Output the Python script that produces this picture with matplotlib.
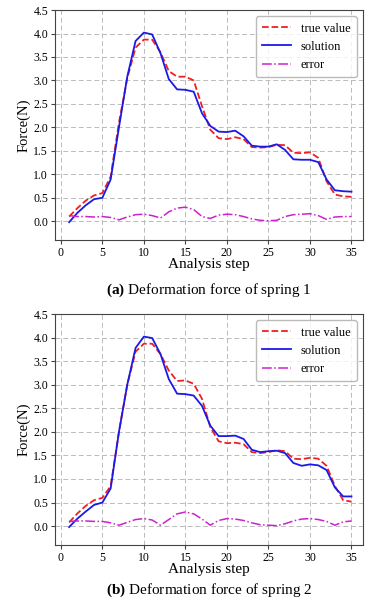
import numpy as np
import matplotlib.pyplot as plt

plt.rcParams['font.family'] = ['Liberation Serif', 'DejaVu Serif']
plt.rcParams['mathtext.fontset'] = 'custom'
plt.rcParams['mathtext.rm'] = 'Liberation Serif'
plt.rcParams['mathtext.bf'] = 'Liberation Serif:bold'

steps = np.arange(1, 36)

# spring 1
true1 = [0.10, 0.28, 0.44, 0.55, 0.60, 0.95, 2.10, 3.05, 3.70, 3.87,
         3.87, 3.60, 3.20, 3.08, 3.08, 3.00, 2.45, 1.95, 1.77, 1.75,
         1.79, 1.75, 1.58, 1.57, 1.58, 1.63, 1.62, 1.46, 1.45, 1.47,
         1.35, 0.85, 0.57, 0.53, 0.52]
sol1 = [-0.02, 0.18, 0.34, 0.47, 0.50, 0.89, 2.00, 3.08, 3.84, 4.02,
        3.98, 3.58, 3.03, 2.81, 2.80, 2.76, 2.30, 2.03, 1.91, 1.90,
        1.93, 1.81, 1.61, 1.59, 1.59, 1.64, 1.52, 1.32, 1.31, 1.31,
        1.26, 0.89, 0.66, 0.64, 0.63]
err1 = [0.12, 0.10, 0.10, 0.09, 0.10, 0.08, 0.03, 0.09, 0.14, 0.15,
        0.12, 0.07, 0.20, 0.28, 0.30, 0.25, 0.10, 0.06, 0.13, 0.15,
        0.14, 0.10, 0.05, 0.02, 0.01, 0.02, 0.10, 0.14, 0.15, 0.16,
        0.12, 0.04, 0.09, 0.10, 0.10]

# spring 2
true2 = [0.08, 0.27, 0.43, 0.55, 0.60, 0.85, 2.00, 3.00, 3.70, 3.87,
         3.87, 3.65, 3.30, 3.08, 3.09, 3.02, 2.70, 2.10, 1.80, 1.76,
         1.77, 1.74, 1.57, 1.55, 1.57, 1.61, 1.59, 1.43, 1.42, 1.45,
         1.43, 1.28, 0.85, 0.55, 0.52]
sol2 = [-0.02, 0.16, 0.31, 0.45, 0.50, 0.80, 2.00, 3.00, 3.78, 4.02,
        3.99, 3.65, 3.12, 2.81, 2.80, 2.77, 2.55, 2.13, 1.91, 1.91,
        1.92, 1.85, 1.62, 1.57, 1.59, 1.60, 1.55, 1.34, 1.28, 1.31,
        1.29, 1.19, 0.82, 0.63, 0.63]
err2 = [0.10, 0.11, 0.11, 0.10, 0.10, 0.07, 0.02, 0.08, 0.14, 0.16,
        0.13, 0.02, 0.14, 0.26, 0.30, 0.26, 0.15, 0.02, 0.12, 0.16,
        0.15, 0.12, 0.07, 0.03, 0.02, 0.01, 0.05, 0.11, 0.15, 0.16,
        0.14, 0.10, 0.02, 0.09, 0.11]

panels = [
    (true1, sol1, err1, '(a)', 'Deformation force of spring 1', [0.1475, 0.6013, 0.826, 0.382], -0.22),
    (true2, sol2, err2, '(b)', 'Deformation force of spring 2', [0.1475, 0.0947, 0.826, 0.3837], -0.195),
]

fig = plt.figure(figsize=(3.73, 6.02), dpi=100)

for tv, sv, ev, tag, cap, rect, cap_y in panels:
    ax = fig.add_axes(rect)
    ax.plot(steps, tv, '--', color='#f02020', lw=1.3, label='true value')
    ax.plot(steps, sv, '-', color='#1a1ae6', lw=1.3, label='solution')
    ax.plot(steps, ev, '-.', color='#cc22cc', lw=1.1, label='error')
    ax.set_ylim(-0.4, 4.5)
    ax.set_xlim(-0.7, 36.4)
    ax.set_xticks([0, 5, 10, 15, 20, 25, 30, 35])
    ax.set_yticks(np.arange(0, 4.51, 0.5))
    ax.yaxis.set_major_formatter(plt.FormatStrFormatter('%.1f'))
    ax.grid(True, ls=(0, (5, 3)), color='#bbbbbb', lw=0.7)
    ax.tick_params(labelsize=8.5, length=3, pad=2, color='#444444')
    for s in ax.spines.values():
        s.set_color('#444444')
    ax.set_ylabel('Force(N)', fontsize=10.5, labelpad=2)
    ax.set_xlabel('Analysis step', fontsize=11, labelpad=-1)
    ax.legend(loc='upper right', fontsize=9, handlelength=2.3, handletextpad=0.8,
              borderpad=0.5, labelspacing=0.5, edgecolor='#aaaaaa')
    ax.text(0.5, cap_y, r'$\mathbf{' + tag + '}$ ' + cap, transform=ax.transAxes,
            ha='center', va='center', fontsize=11)

fig.savefig('out.png', dpi=100)
